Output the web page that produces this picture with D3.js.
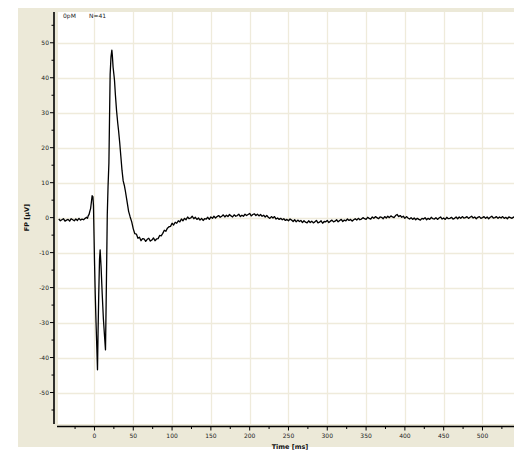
<!DOCTYPE html>
<html>
<head>
<meta charset="utf-8">
<script src="https://cdn.jsdelivr.net/npm/d3@7"></script>
<style>
  body { margin: 0; background: #fff; }
  svg { display: block; font-family: "DejaVu Sans", Verdana, sans-serif; }
  .tick-label { font-size: 6px; fill: #222; }
  .axis-title { font-size: 6.5px; font-weight: bold; fill: #111; }
  .note { font-size: 6px; fill: #222; }
</style>
</head>
<body>
<svg id="chart" width="514" height="450"></svg>
<script>
// field potential trace, 0pM, N=41
const condLabel = '0pM';
const countLabel = 'N=41';

const xTicks = [0, 50, 100, 150, 200, 250, 300, 350, 400, 450, 500];
const yTicks = [-50, -40, -30, -20, -10, 0, 10, 20, 30, 40, 50];

const sampleStepMs = 2;

// baseline before stimulus, 2 ms samples from -46 ms
const preStartMs = -46;
const preFP = [-0.4, -0.9, -0.6, -0.3, -1.0, -0.7, -0.5, -1.0, -0.3, -0.6,
               -0.9, -0.4, -0.8, -0.2, -0.7, -0.4, -0.6, -0.2, 0.1];

// spike complex, irregular samples
const spikeTimes = [-9, -8, -7, -6, -5, -4, -3, -2.5, -2, -1.3, 0, 1, 2, 3, 3.9,
                    4.6, 5.5, 6.5, 7.3, 8.5, 10, 11.5, 13, 14.2, 15, 16, 16.5, 17.5,
                    18.6, 19.5, 20.2, 21.3, 22.4, 23, 24, 25, 25.8, 27, 28.5, 30, 31,
                    32.5, 34, 35.5, 37, 38.5, 39.6, 41.7, 44, 46, 48];
const spikeFP = [-0.2, 0.6, 0.9, 1.8, 2.6, 4.4, 6.3, 5.5, 6.0, 3.5, -12, -22, -30, -37, -43.5,
                 -33, -22, -12, -9.2, -14, -22, -29, -34, -37.8, -25, -8, 0.8, 9,
                 15.6, 30, 41, 46, 47.9, 46.5, 43, 41, 39.3, 35, 30.5, 27, 25,
                 21.5, 17.5, 13.5, 10.5, 9.2, 7.9, 5, 1.8, 0.2, -1.2];

// recovery and late baseline, 2 ms samples from 50 ms
const postStartMs = 50;
const postFP = [
  -3.2, -4.6, -4.7, -5.9, -5.6,   -6.6, -6.0, -6.1, -6.8, -6.2,
  -5.9, -6.7, -6.4, -5.8, -6.6,   -6.1, -6.0, -5.1, -5.2, -4.5,
  -3.6, -3.9, -3.0, -2.6, -2.5,   -1.6, -2.1, -1.3, -1.6, -0.9,
  -1.2, -0.4, -0.9, -0.2, -0.6,   0.2, -0.3, -0.1, 0.4, -0.3,
  0.1, -0.5, -0.1, -0.7, -0.2,    -0.8, -0.3, -0.4, 0.1, -0.5,
  0.2, -0.2, 0.4, -0.1, 0.3,      0.6, 0.1, 0.4, 0.8, 0.2,
  0.7, 0.3, 0.9, 0.5, 0.2,        0.8, 0.4, 0.6, 1.0, 0.3,
  0.7, 0.4, 1.0, 0.6, 0.9,        1.2, 0.5, 0.9, 1.1, 0.6,
  1.0, 0.5, 0.9, 0.4, 0.7,        0.2, 0.6, 0.1, -0.2, 0.3,
  -0.1, 0.3, -0.4, -0.1, -0.5,    -0.2, -0.6, -0.3, -0.8, -0.5,
  -0.9, -0.4, -0.7, -1.1, -0.6,   -1.2, -0.7, -1.1, -0.8, -1.4,
  -0.9, -1.3, -1.5, -0.9, -1.4,   -1.0, -1.5, -1.2, -0.8, -1.5,
  -1.3, -0.9, -1.6, -1.1, -1.2,   -0.8, -1.4, -1.0, -0.7, -1.2,
  -1.0, -0.6, -1.2, -0.8, -0.5,   -1.1, -0.7, -0.9, -0.4, -0.8,
  -0.5, -1.0, -0.6, -0.3, -0.7,   -0.2, -0.6, -0.4, 0.0, -0.3,
  -0.5, 0.1, -0.2, -0.4, 0.2,     -0.2, 0.3, 0.0, -0.3, 0.2,
  0.1, -0.3, 0.3, -0.1, 0.4,      0.0, 0.5, 0.2, 0.0, 0.6,
  0.9, 0.3, 0.6, 0.1, 0.4,        -0.2, 0.3, -0.1, -0.4, 0.0,
  -0.5, -0.1, -0.6, -0.2, -0.5,   -0.7, -0.2, -0.4, 0.0, -0.6,
  -0.2, -0.5, 0.1, -0.3, -0.4,    0.0, -0.5, -0.1, 0.2, -0.4,
  -0.1, -0.5, 0.1, -0.3, -0.2,    0.1, -0.4, -0.2, 0.2, -0.3,
  0.2, -0.2, 0.3, -0.1, 0.0,      0.3, -0.2, 0.1, 0.4, -0.1,
  0.2, -0.3, 0.1, 0.3, -0.2,      0.0, 0.3, -0.2, 0.2, -0.3,
  0.1, 0.4, -0.1, 0.0, 0.3,       -0.2, 0.2, -0.1, 0.3, -0.2,
  0.1, -0.3, 0.2, 0.0, -0.2,      0.2, -0.1
];

const W = 514, H = 450;
const BG = '#ECE9D8';
const GRID = '#EFEBDB';

const plot = { left: 58, right: 514, top: 12, bottom: 424 };

const x = d3.scaleLinear().domain([-47, 541]).range([plot.left, plot.right + 0.3]);
const y = d3.scaleLinear().domain([-59, 58.8]).range([plot.bottom, plot.top]);

// assemble trace points
const points = [];
preFP.forEach((v, i) => points.push([preStartMs + i * sampleStepMs, v]));
spikeTimes.forEach((t, i) => points.push([t, spikeFP[i]]));
postFP.forEach((v, i) => points.push([postStartMs + i * sampleStepMs, v]));

const svg = d3.select('#chart');

// panel background
svg.append('rect')
  .attr('x', 18).attr('y', 8)
  .attr('width', W - 18).attr('height', 439)
  .attr('fill', BG);

svg.append('rect')
  .attr('x', plot.left).attr('y', plot.top)
  .attr('width', plot.right - plot.left).attr('height', plot.bottom - plot.top)
  .attr('fill', '#fff');

svg.append('defs').append('clipPath').attr('id', 'plot-clip')
  .append('rect')
  .attr('x', plot.left).attr('y', plot.top)
  .attr('width', plot.right - plot.left).attr('height', plot.bottom - plot.top);

// grid
const grid = svg.append('g').attr('clip-path', 'url(#plot-clip)');
grid.selectAll('.hgrid')
  .data(yTicks)
  .join('line')
  .attr('x1', plot.left).attr('x2', plot.right)
  .attr('y1', d => Math.round(y(d)) + 0.5).attr('y2', d => Math.round(y(d)) + 0.5)
  .attr('stroke', GRID).attr('stroke-width', 1.3);
grid.selectAll('.vgrid')
  .data(xTicks)
  .join('line')
  .attr('y1', plot.top).attr('y2', plot.bottom)
  .attr('x1', d => Math.round(x(d)) + 0.5).attr('x2', d => Math.round(x(d)) + 0.5)
  .attr('stroke', GRID).attr('stroke-width', 1.3);

// trace
const line = d3.line().x(d => x(d[0])).y(d => y(d[1]));
grid.append('path')
  .datum(points)
  .attr('d', line)
  .attr('fill', 'none')
  .attr('stroke', '#000')
  .attr('stroke-width', 1.3)
  .attr('stroke-linejoin', 'round');

// y axis (offset left of plot)
const yMinor = d3.range(-55, 56, 5).filter(v => v % 10 !== 0);
const yAxisX = 54;
const yAx = svg.append('g');
yAx.append('line')
  .attr('x1', yAxisX).attr('x2', yAxisX)
  .attr('y1', plot.top).attr('y2', plot.bottom)
  .attr('stroke', '#000').attr('stroke-width', 1.6);
yAx.selectAll('.ymaj').data(yTicks).join('line')
  .attr('x1', yAxisX - 4).attr('x2', yAxisX)
  .attr('y1', d => y(d)).attr('y2', d => y(d))
  .attr('stroke', '#000').attr('stroke-width', 1);
yAx.selectAll('.ymin').data(yMinor).join('line')
  .attr('x1', yAxisX - 2.5).attr('x2', yAxisX)
  .attr('y1', d => y(d)).attr('y2', d => y(d))
  .attr('stroke', '#000').attr('stroke-width', 1);
yAx.selectAll('text').data(yTicks).join('text')
  .attr('class', 'tick-label')
  .attr('x', yAxisX - 5)
  .attr('y', d => y(d) + 2.1)
  .attr('text-anchor', 'end')
  .text(d => d);

// x axis (offset below plot)
const xMinor = d3.range(-25, 541, 50);
const xAxisY = 426.5;
const xAx = svg.append('g');
xAx.append('line')
  .attr('x1', plot.left - 1).attr('x2', plot.right)
  .attr('y1', xAxisY).attr('y2', xAxisY)
  .attr('stroke', '#000').attr('stroke-width', 1.6);
xAx.selectAll('.xmaj').data(xTicks).join('line')
  .attr('x1', d => x(d)).attr('x2', d => x(d))
  .attr('y1', xAxisY).attr('y2', xAxisY + 4)
  .attr('stroke', '#000').attr('stroke-width', 1);
xAx.selectAll('.xmin').data(xMinor).join('line')
  .attr('x1', d => x(d)).attr('x2', d => x(d))
  .attr('y1', xAxisY).attr('y2', xAxisY + 2.5)
  .attr('stroke', '#000').attr('stroke-width', 1);
xAx.selectAll('text').data(xTicks).join('text')
  .attr('class', 'tick-label')
  .attr('x', d => x(d))
  .attr('y', xAxisY + 11)
  .attr('text-anchor', 'middle')
  .text(d => d);

// titles
svg.append('text')
  .attr('class', 'axis-title')
  .attr('x', 290).attr('y', 449)
  .attr('text-anchor', 'middle')
  .text('Time [ms]');

svg.append('text')
  .attr('class', 'axis-title')
  .attr('transform', `translate(28.5,${y(0)}) rotate(-90)`)
  .attr('text-anchor', 'middle')
  .text('FP [µV]');

svg.append('text').attr('class', 'note')
  .attr('x', 63).attr('y', 18).text(condLabel);
svg.append('text').attr('class', 'note')
  .attr('x', 89).attr('y', 18).text(countLabel);
</script>
</body>
</html>
